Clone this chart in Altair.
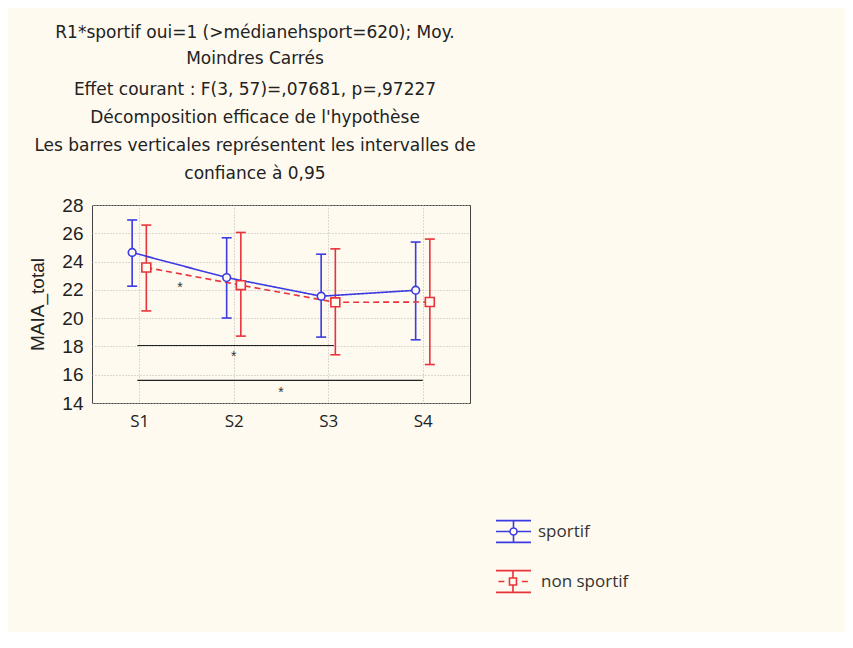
import altair as alt
import pandas as pd

sessions = ["S1", "S2", "S3", "S4"]
series_names = ["sportif", "non sportif"]
sportif_mean = [24.64, 22.87, 21.55, 21.97]
sportif_low = [22.26, 20.01, 18.66, 18.47]
sportif_high = [26.94, 25.68, 24.52, 25.38]
non_mean = [23.58, 22.33, 21.12, 21.14]
non_low = [20.51, 18.73, 17.41, 16.72]
non_high = [26.58, 26.06, 24.90, 25.59]
offsets = [-0.075, 0.075]

sig_y = [18.07, 15.6]
sig_x_start = [0.98, 0.98]
sig_x_end = [3.06, 4.0]
star_x = [1.43, 2.0, 2.5]
star_y = [22.37, 17.43, 14.95]

BG = "#FEFAF0"
BLUE = "#3B3BE2"
RED = "#E8333A"

rows = []
for s, (m, lo, hi), off in zip(series_names,
                               [(sportif_mean, sportif_low, sportif_high),
                                (non_mean, non_low, non_high)], offsets):
    for j, sess in enumerate(sessions):
        rows.append({"series": s, "session": sess, "x": j + 1 + off,
                     "mean": m[j], "low": lo[j], "high": hi[j]})
df = pd.DataFrame(rows)
df_sig = pd.DataFrame({"x": sig_x_start, "x2": sig_x_end, "y": sig_y})
df_star = pd.DataFrame({"x": star_x, "y": star_y, "t": ["*"] * 3})
df_leg = pd.DataFrame({"series": series_names, "x": [-10, -10], "y": [20, 20]})

xscale = alt.Scale(domain=[0.5, 4.5], nice=False, zero=False)
yscale = alt.Scale(domain=[14, 28], nice=False, zero=False)
cscale = alt.Scale(domain=series_names, range=[BLUE, RED])

xax = alt.Axis(values=[1, 2, 3, 4], labelExpr="'S' + datum.value", title=None,
               grid=True, gridDash=[1, 2], gridColor="#b8b8b8", ticks=False,
               domain=False, labelFont="Open Sans", labelFontSize=17,
               labelColor="#222", labelPadding=10)
yax = alt.Axis(values=[14, 16, 18, 20, 22, 24, 26, 28], title="MAIA_total", grid=True,
               gridDash=[1, 2], gridColor="#b8b8b8", ticks=False, domain=False,
               labelFont="Liberation Sans", labelFontSize=19, labelColor="#222",
               labelPadding=9, labelOverlap=False, labelFlush=False,
               titleFont="Liberation Sans", titleFontSize=19,
               titleFontWeight="normal", titleColor="#222", titleX=-55, titleY=99,
               titleAngle=270, titleBaseline="middle", titleAlign="center")


def xq(field="x"):
    return alt.X(f"{field}:Q", scale=xscale, axis=xax)


def yq(field):
    return alt.Y(f"{field}:Q", scale=yscale, axis=yax)


C = alt.Color("series:N", scale=cscale, legend=None)

base = alt.Chart(df)

sig = alt.Chart(df_sig).mark_rule(color="#222", strokeWidth=1.1).encode(
    x=xq("x"), x2="x2:Q", y=yq("y"))
stars = alt.Chart(df_star).mark_text(font="Liberation Sans", fontSize=14,
                                     color="#333", baseline="middle", dy=3).encode(
    x=xq("x"), y=yq("y"), text="t:N")
err = base.mark_rule(strokeWidth=1.6, opacity=1).encode(
    x=xq("x"), y=yq("low"), y2="high:Q", color=C)
cap_lo = base.mark_tick(orient="horizontal", size=10, thickness=1.6, opacity=1).encode(
    x=xq("x"), y=yq("low"), color=C)
cap_hi = base.mark_tick(orient="horizontal", size=10, thickness=1.6, opacity=1).encode(
    x=xq("x"), y=yq("high"), color=C)
lines = base.mark_line(strokeWidth=1.6, opacity=1).encode(
    x=xq("x"), y=yq("mean"), color=C,
    strokeDash=alt.StrokeDash("series:N", scale=alt.Scale(domain=series_names,
                              range=[[1, 0], [6, 4]]), legend=None),
    detail="series:N")
pts_b = base.transform_filter(alt.datum.series == "sportif").mark_point(
    shape="circle", size=60, filled=False, fill=BG, fillOpacity=1, opacity=1,
    strokeWidth=1.6).encode(x=xq("x"), y=yq("mean"), color=C)
pts_r = base.transform_filter(alt.datum.series == "non sportif").mark_point(
    shape="square", size=80, filled=False, fill=BG, fillOpacity=1, opacity=1,
    strokeWidth=1.6).encode(x=xq("x"), y=yq("mean"), color=C)

path_blue = ("M-1,-0.62L1,-0.62M-1,0.62L1,0.62M-1,0L-0.2,0M0.2,0L1,0"
             "M0,-0.62L0,-0.2M0,0.2L0,0.62"
             "M0.2,0A0.2,0.2 0 1,1 -0.2,0A0.2,0.2 0 1,1 0.2,0")
path_red = ("M-1,-0.62L1,-0.62M-1,0.62L1,0.62M-0.86,0L-0.52,0M0.48,0L0.82,0"
            "M-0.03,-0.62L-0.03,-0.2M-0.03,0.2L-0.03,0.62"
            "M-0.23,-0.2L0.17,-0.2L0.17,0.2L-0.23,0.2Z")


def legend_layer(name, color, path, ly, loff):
    d = df_leg[df_leg["series"] == name]
    return alt.Chart(d).mark_point(filled=False, clip=True, strokeWidth=1.6,
                                   opacity=1).encode(
        x=xq("x"), y=yq("y"),
        color=alt.Color("series:N", scale=alt.Scale(domain=[name], range=[color]),
                        legend=alt.Legend(title=None, orient="none", legendX=403,
                                          legendY=ly, symbolSize=1225,
                                          symbolType=path, symbolStrokeWidth=1.6,
                                          symbolStrokeColor=color,
                                          symbolOpacity=1,
                                          symbolFillColor="transparent",
                                          labelFont="Open Sans", labelFontSize=17,
                                          labelColor="#333", labelOffset=loff,
                                          padding=0)))


leg_b = legend_layer("sportif", BLUE, path_blue, 308, 6)
leg_r = legend_layer("non sportif", RED, path_red, 358, 9)

title = alt.TitleParams(
    text=["R1*sportif oui=1 (>médianehsport=620); Moy.", "Moindres Carrés"],
    subtitle=["Effet courant : F(3, 57)=,07681, p=,97227",
              "Décomposition efficace de l'hypothèse",
              "Les barres verticales représentent les intervalles de",
              "confiance à 0,95"],
    font="DejaVu Sans", fontSize=17, fontWeight="normal", color="#222",
    lineHeight=26, subtitleFont="DejaVu Sans", subtitleFontSize=17,
    subtitleColor="#222", subtitleLineHeight=28, subtitlePadding=14,
    anchor="middle", frame="group", dx=-26, offset=13)

chart = alt.layer(sig, stars, err, cap_lo, cap_hi, lines, pts_b, pts_r,
                  leg_b, leg_r).resolve_scale(color="independent").properties(
    width=378, height=198, title=title, background=BG,
    autosize=alt.AutoSizeParams(type="none"),
    padding={"left": 84, "top": 197, "right": 375, "bottom": 229},
).configure_view(stroke="#444", strokeWidth=1, fill=BG)

chart.save("out.html", embed_options={"renderer": "svg", "actions": False})
